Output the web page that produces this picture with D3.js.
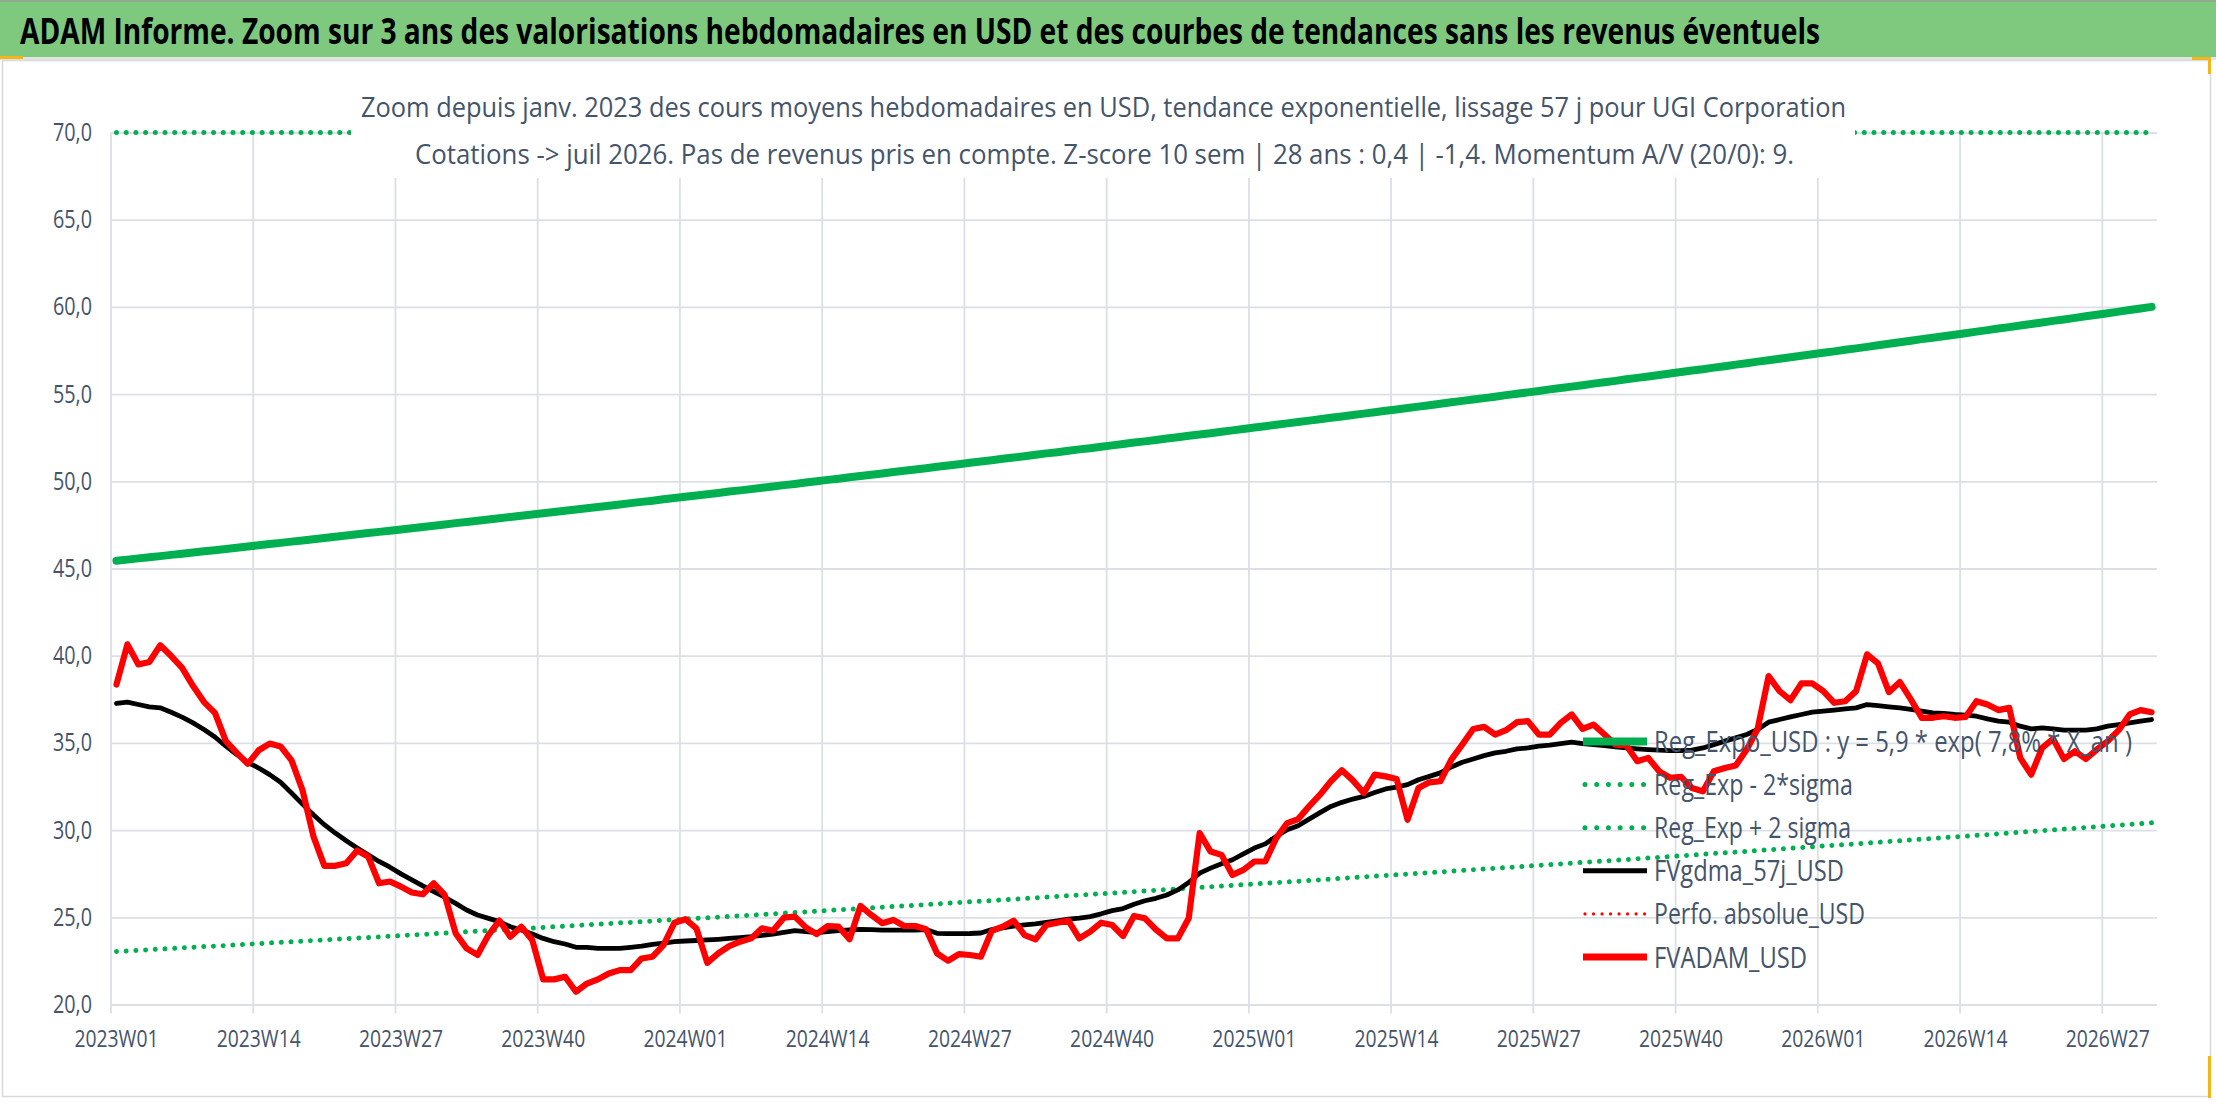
<!DOCTYPE html>
<html>
<head>
<meta charset="utf-8">
<script src="https://cdn.jsdelivr.net/npm/d3@7"></script>
<style>
  body { margin: 0; background: #fff; }
  text { font-family: "Open Sans", "Noto Sans", sans-serif; }
</style>
</head>
<body>
<div id="chart"></div>
<script>
// weekly categories 2023W01 .. 2026W31
const years = [2023, 2024, 2025, 2026];
const weeksInYear = [52, 52, 52, 31];
const categories = [];
years.forEach((yr, k) => {
  for (let w = 1; w <= weeksInYear[k]; w++) categories.push(yr + "W" + String(w).padStart(2, "0"));
});

const tickLabels = ["2023W01","2023W14","2023W27","2023W40","2024W01","2024W14","2024W27","2024W40",
  "2025W01","2025W14","2025W27","2025W40","2026W01","2026W14","2026W27"];
const yTicks = [20, 25, 30, 35, 40, 45, 50, 55, 60, 65, 70];

// FVADAM_USD
const fvadam = [38.35,40.65,39.5,39.64,40.6,39.98,39.3,38.26,37.34,36.72,35.1,34.43,33.8,34.58,34.96,34.8,34.0,32.3,29.64,27.95,
  27.95,28.1,28.83,28.49,26.95,27.05,26.76,26.42,26.32,26.95,26.28,24.08,23.22,22.84,23.98,24.81,23.89,24.46,23.7,21.44,
  21.44,21.59,20.73,21.2,21.44,21.78,21.97,21.97,22.64,22.74,23.41,24.69,24.89,24.37,22.39,22.93,23.35,23.6,23.79,24.37,
  24.23,24.98,25.04,24.42,24.04,24.5,24.46,23.74,25.65,25.13,24.66,24.85,24.5,24.5,24.31,22.93,22.51,22.89,22.84,22.74,
  24.23,24.46,24.81,23.98,23.74,24.56,24.69,24.81,23.79,24.18,24.69,24.56,23.93,25.08,24.94,24.3,23.79,23.79,24.94,29.83,
  28.77,28.58,27.43,27.72,28.2,28.2,29.54,30.4,30.63,31.36,32.03,32.8,33.43,32.85,32.13,33.18,33.08,32.93,30.59,32.41,
  32.74,32.8,34.04,34.9,35.8,35.92,35.48,35.73,36.19,36.25,35.48,35.48,36.15,36.63,35.8,36.05,35.48,34.9,34.85,33.95,
  34.14,33.37,33.0,33.05,32.41,32.22,33.37,33.56,33.7,34.62,35.8,38.83,37.97,37.45,38.41,38.41,37.97,37.3,37.39,37.97,
  40.08,39.56,37.91,38.49,37.49,36.44,36.44,36.53,36.44,36.49,37.39,37.2,36.88,37.01,34.14,33.18,34.71,35.23,34.08,34.52,
  34.08,34.62,35.1,35.73,36.63,36.88,36.76];

// FVgdma_57j_USD
const fvgdma = [37.26,37.34,37.2,37.07,37.01,36.76,36.48,36.15,35.77,35.34,34.81,34.33,33.89,33.56,33.18,32.74,32.13,31.49,30.88,30.31,
  29.83,29.39,28.97,28.58,28.2,27.87,27.49,27.15,26.8,26.48,26.15,25.8,25.42,25.13,24.94,24.75,24.46,24.27,24.04,23.79,
  23.6,23.47,23.28,23.28,23.22,23.22,23.22,23.28,23.35,23.45,23.52,23.6,23.64,23.67,23.7,23.74,23.79,23.84,23.89,23.97,
  24.04,24.13,24.23,24.18,24.12,24.18,24.24,24.28,24.31,24.29,24.27,24.27,24.27,24.27,24.3,24.08,24.06,24.06,24.07,24.1,
  24.3,24.4,24.5,24.56,24.62,24.71,24.8,24.89,24.95,25.04,25.2,25.38,25.5,25.75,25.95,26.09,26.28,26.57,26.99,27.53,
  27.82,28.07,28.3,28.64,28.97,29.21,29.64,30.02,30.25,30.63,31.0,31.36,31.59,31.78,31.93,32.16,32.36,32.47,32.61,32.89,
  33.08,33.28,33.62,33.89,34.08,34.27,34.43,34.52,34.66,34.71,34.81,34.87,34.96,35.04,34.96,34.9,34.85,34.77,34.71,34.66,
  34.62,34.58,34.56,34.56,34.58,34.71,34.9,35.1,35.29,35.48,35.77,36.19,36.34,36.49,36.63,36.76,36.82,36.88,36.95,37.01,
  37.2,37.14,37.07,37.01,36.92,36.82,36.72,36.69,36.63,36.59,36.53,36.38,36.25,36.19,35.96,35.8,35.86,35.8,35.73,35.73,
  35.73,35.8,35.96,36.05,36.15,36.25,36.34];

// Reg_Expo_USD
const regExpo = [45.44,45.51,45.58,45.64,45.71,45.78,45.85,45.92,45.99,46.05,
  46.12,46.19,46.26,46.33,46.40,46.47,46.54,46.61,46.68,46.75,
  46.82,46.89,46.96,47.03,47.10,47.17,47.24,47.31,47.38,47.45,
  47.52,47.60,47.67,47.74,47.81,47.88,47.95,48.02,48.10,48.17,
  48.24,48.31,48.38,48.46,48.53,48.60,48.67,48.75,48.82,48.89,
  48.97,49.04,49.11,49.19,49.26,49.33,49.41,49.48,49.55,49.63,
  49.70,49.78,49.85,49.93,50.00,50.08,50.15,50.23,50.30,50.38,
  50.45,50.53,50.60,50.68,50.75,50.83,50.91,50.98,51.06,51.13,
  51.21,51.29,51.36,51.44,51.52,51.60,51.67,51.75,51.83,51.90,
  51.98,52.06,52.14,52.22,52.29,52.37,52.45,52.53,52.61,52.68,
  52.76,52.84,52.92,53.00,53.08,53.16,53.24,53.32,53.40,53.48,
  53.56,53.64,53.72,53.80,53.88,53.96,54.04,54.12,54.20,54.28,
  54.36,54.45,54.53,54.61,54.69,54.77,54.85,54.94,55.02,55.10,
  55.18,55.27,55.35,55.43,55.51,55.60,55.68,55.76,55.85,55.93,
  56.01,56.10,56.18,56.27,56.35,56.43,56.52,56.60,56.69,56.77,
  56.86,56.94,57.03,57.11,57.20,57.28,57.37,57.45,57.54,57.62,
  57.71,57.80,57.89,57.97,58.06,58.15,58.23,58.32,58.40,58.49,
  58.58,58.67,58.76,58.84,58.93,59.02,59.11,59.20,59.28,59.37,
  59.46,59.55,59.64,59.73,59.82,59.91,60.00];

// Reg_Exp - 2*sigma
const regLow = [23.04,23.07,23.11,23.14,23.18,23.21,23.25,23.28,23.32,23.35,
  23.38,23.42,23.46,23.49,23.53,23.56,23.60,23.63,23.67,23.70,
  23.74,23.77,23.81,23.84,23.88,23.92,23.95,23.99,24.02,24.06,
  24.09,24.13,24.17,24.20,24.24,24.28,24.31,24.35,24.38,24.42,
  24.46,24.49,24.53,24.57,24.60,24.64,24.68,24.71,24.75,24.79,
  24.83,24.86,24.90,24.94,24.97,25.01,25.05,25.09,25.12,25.16,
  25.20,25.24,25.28,25.31,25.35,25.39,25.43,25.46,25.50,25.54,
  25.58,25.62,25.65,25.69,25.73,25.77,25.81,25.85,25.89,25.92,
  25.96,26.00,26.04,26.08,26.12,26.16,26.20,26.24,26.28,26.31,
  26.35,26.39,26.43,26.47,26.51,26.55,26.59,26.63,26.67,26.71,
  26.75,26.79,26.83,26.87,26.91,26.95,26.99,27.03,27.07,27.11,
  27.15,27.19,27.24,27.28,27.32,27.36,27.40,27.44,27.48,27.52,
  27.56,27.60,27.65,27.69,27.73,27.77,27.81,27.85,27.89,27.94,
  27.98,28.02,28.06,28.10,28.15,28.19,28.23,28.27,28.31,28.36,
  28.40,28.44,28.48,28.53,28.57,28.61,28.66,28.70,28.74,28.78,
  28.83,28.87,28.91,28.96,29.00,29.04,29.09,29.13,29.17,29.21,
  29.26,29.30,29.35,29.39,29.44,29.48,29.52,29.57,29.61,29.65,
  29.70,29.74,29.79,29.83,29.88,29.92,29.97,30.01,30.06,30.10,
  30.15,30.19,30.24,30.28,30.33,30.37,30.42];

// Reg_Exp + 2 sigma (above the axis max, shown clipped at 70)
const regHigh = [89.6,89.8,89.9,90.0,90.2,90.3,90.4,90.6,90.7,90.8,
  91.0,91.1,91.3,91.4,91.5,91.7,91.8,91.9,92.1,92.2,
  92.4,92.5,92.6,92.8,92.9,93.0,93.2,93.3,93.5,93.6,
  93.7,93.9,94.0,94.2,94.3,94.4,94.6,94.7,94.9,95.0,
  95.2,95.3,95.4,95.6,95.7,95.9,96.0,96.2,96.3,96.4,
  96.6,96.7,96.9,97.0,97.2,97.3,97.5,97.6,97.7,97.9,
  98.0,98.2,98.3,98.5,98.6,98.8,98.9,99.1,99.2,99.4,
  99.5,99.7,99.8,100.0,100.1,100.3,100.4,100.6,100.7,100.9,
  101.0,101.2,101.3,101.5,101.6,101.8,101.9,102.1,102.2,102.4,
  102.5,102.7,102.8,103.0,103.2,103.3,103.5,103.6,103.8,103.9,
  104.1,104.2,104.4,104.5,104.7,104.9,105.0,105.2,105.3,105.5,
  105.6,105.8,106.0,106.1,106.3,106.4,106.6,106.8,106.9,107.1,
  107.2,107.4,107.6,107.7,107.9,108.0,108.2,108.4,108.5,108.7,
  108.8,109.0,109.2,109.3,109.5,109.7,109.8,110.0,110.2,110.3,
  110.5,110.6,110.8,111.0,111.1,111.3,111.5,111.6,111.8,112.0,
  112.1,112.3,112.5,112.6,112.8,113.0,113.2,113.3,113.5,113.7,
  113.8,114.0,114.2,114.3,114.5,114.7,114.9,115.0,115.2,115.4,
  115.6,115.7,115.9,116.1,116.2,116.4,116.6,116.8,116.9,117.1,
  117.3,117.5,117.6,117.8,118.0,118.2,118.3];

const legendLabels = ["Reg_Expo_USD : y = 5,9 * exp( 7,8% * X_an )", "Reg_Exp - 2*sigma", "Reg_Exp + 2 sigma",
  "FVgdma_57j_USD", "Perfo. absolue_USD", "FVADAM_USD"];

const width = 2216;
const height = 1102;
const margin = { top: 132.5, bottom: 97.5, left: 111, right: 59 };
const textColor = "#44546a";
const gridColor = "#dcdfe5";

const svg = d3.select("#chart")
  .append("svg")
  .attr("width", width)
  .attr("height", height);

svg.append("rect").attr("width", width).attr("height", height).attr("fill", "#fff");

// narrow tall text, like the squeezed Calibri of the original
function tallText(parent, x, y, size, stretch, len, str) {
  return parent.append("text")
    .attr("transform", `translate(${x},${y}) scale(1,${stretch})`)
    .attr("font-size", size + "px")
    .attr("textLength", len).attr("lengthAdjust", "spacingAndGlyphs")
    .text(str);
}

// title bar
svg.append("rect").attr("x", 0).attr("y", 0).attr("width", width).attr("height", 2).attr("fill", "#8fa98f");
svg.append("rect").attr("x", 0).attr("y", 2).attr("width", width).attr("height", 55).attr("fill", "#7fc97f");
svg.append("rect").attr("x", 0).attr("y", 57).attr("width", width).attr("height", 3).attr("fill", "#e3e3e3");
svg.append("rect").attr("x", 0).attr("y", 56).attr("width", 23).attr("height", 3).attr("fill", "#f2b51c");
tallText(svg, 20, 44, 28, 1.29, 1800,
  "ADAM Informe. Zoom sur 3 ans des valorisations hebdomadaires en USD et des courbes de tendances sans les revenus éventuels")
  .attr("font-weight", "bold").attr("fill", "#000");

// chart area
svg.append("rect")
  .attr("x", 2.5).attr("y", 60.5).attr("width", 2208).attr("height", 1036)
  .attr("fill", "#fff").attr("stroke", "#d9d9d9").attr("stroke-width", 1.5);
svg.append("path").attr("d", "M2192,58.5 H2209.5 V74").attr("fill", "none").attr("stroke", "#f2b51c").attr("stroke-width", 3);
svg.append("path").attr("d", "M2209.5,1056 V1098").attr("fill", "none").attr("stroke", "#f2b51c").attr("stroke-width", 3);

const x = d3.scaleBand()
  .domain(d3.range(categories.length))
  .range([margin.left, width - margin.right])
  .padding(0);

const y = d3.scaleLinear()
  .domain([20, 70])
  .range([height - margin.bottom, margin.top])
  .clamp(true);

const cx = i => x(i) + x.bandwidth() / 2;

// horizontal gridlines + y labels
function yAxis(g) {
  g.attr("transform", `translate(${margin.left},0)`)
    .call(d3.axisLeft(y).tickValues(yTicks).tickSize(-(width - margin.right - margin.left)).tickPadding(19)
      .tickFormat(d => d.toFixed(1).replace(".", ",")))
    .call(g => g.select(".domain").remove())
    .call(g => g.selectAll(".tick line").attr("stroke", gridColor).attr("stroke-width", 1.8))
    .call(g => g.selectAll(".tick text")
      .attr("font-size", "25px").attr("fill", textColor)
      .attr("font-family", "Open Sans")
      .attr("textLength", 39).attr("lengthAdjust", "spacingAndGlyphs"));
}
svg.append("g").call(yAxis);

// vertical gridlines at each labelled week
const tickIdx = tickLabels.map(l => categories.indexOf(l));
svg.append("g")
  .selectAll("line")
  .data(tickIdx)
  .join("line")
    .attr("x1", i => x(i)).attr("x2", i => x(i))
    .attr("y1", y(70)).attr("y2", y(20) + 9)
    .attr("stroke", gridColor).attr("stroke-width", 1.8);

function xAxis(g) {
  g.attr("transform", `translate(0,${y(20)})`)
    .call(d3.axisBottom(x).tickValues(tickIdx).tickSize(0).tickPadding(25)
      .tickFormat(i => categories[i]))
    .call(g => g.select(".domain").remove())
    .call(g => g.selectAll(".tick text")
      .attr("font-size", "24px").attr("fill", textColor)
      .attr("font-family", "Open Sans")
      .attr("textLength", 84).attr("lengthAdjust", "spacingAndGlyphs"));
}
svg.append("g").call(xAxis);

const line = d3.line().x((d, i) => cx(i)).y(d => y(d));

const series = [
  { values: regExpo, color: "#00b050", width: 8, dash: null },
  { values: regLow, color: "#00b050", width: 5, dash: "0.01 9.7" },
  { values: regHigh, color: "#00b050", width: 5, dash: "0.01 9.7" },
  { values: fvgdma, color: "#000000", width: 4.8, dash: null },
  { values: fvadam, color: "#ff0000", width: 6.2, dash: null }
];

svg.append("g")
  .selectAll("path")
  .data(series)
  .join("path")
    .attr("d", d => line(d.values))
    .attr("fill", "none")
    .attr("stroke", d => d.color)
    .attr("stroke-width", d => d.width)
    .attr("stroke-dasharray", d => d.dash)
    .attr("stroke-linecap", "round")
    .attr("stroke-linejoin", "round");

// subtitle box
svg.append("rect")
  .attr("x", 351).attr("y", 72).attr("width", 1504).attr("height", 106)
  .attr("fill", "#fff");
tallText(svg, 361, 117, 23, 1.22, 1485,
  "Zoom depuis janv. 2023 des cours moyens hebdomadaires en USD, tendance exponentielle, lissage 57 j pour UGI Corporation")
  .attr("fill", textColor);
tallText(svg, 415, 163.5, 23, 1.22, 1379,
  "Cotations -> juil 2026. Pas de revenus pris en compte. Z-score 10 sem | 28 ans : 0,4 | -1,4. Momentum A/V (20/0): 9.")
  .attr("fill", textColor);

// legend
const legendStyles = [
  { color: "#00b050", width: 8, dash: null },
  { color: "#00b050", width: 5, dash: "0.01 11.7" },
  { color: "#00b050", width: 5, dash: "0.01 11.7" },
  { color: "#000000", width: 5, dash: null },
  { color: "#ff0000", width: 3.2, dash: "0.01 8.5" },
  { color: "#ff0000", width: 7, dash: null }
];
const legendWidths = [478, 199, 197, 190, 211, 153];

const legend = svg.append("g")
  .selectAll("g")
  .data(legendLabels)
  .join("g")
    .attr("transform", (d, i) => `translate(0,${752 + i * 43.1})`);

legend.append("line")
  .attr("x1", (d, i) => legendStyles[i].dash ? 1585 : 1583)
  .attr("x2", 1647)
  .attr("y1", -10.5).attr("y2", -10.5)
  .attr("stroke", (d, i) => legendStyles[i].color)
  .attr("stroke-width", (d, i) => legendStyles[i].width)
  .attr("stroke-dasharray", (d, i) => legendStyles[i].dash)
  .attr("stroke-linecap", (d, i) => legendStyles[i].dash ? "round" : "butt");

legend.each(function (d, i) {
  tallText(d3.select(this), 1654, 0, 23, 1.26, legendWidths[i], d).attr("fill", textColor);
});
</script>
</body>
</html>
